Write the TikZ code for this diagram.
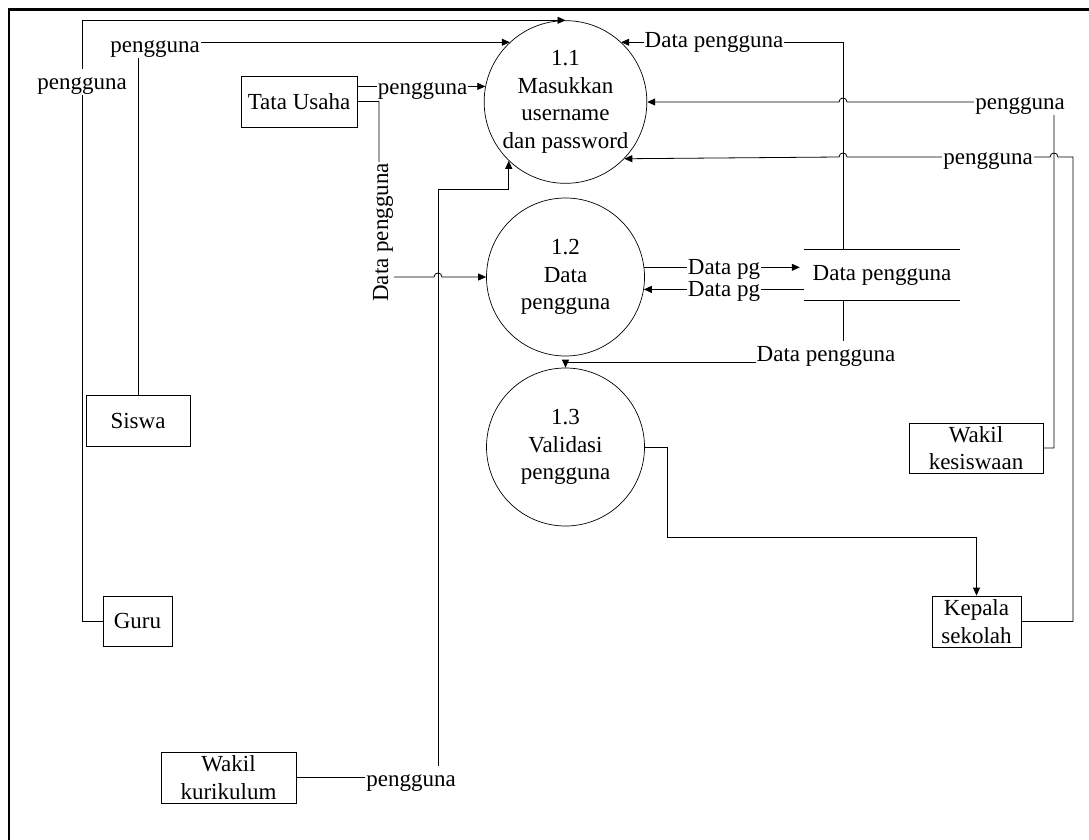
\documentclass[tikz,border=0pt]{standalone}
\usepackage{fontspec}
\setmainfont{Liberation Serif}
\usetikzlibrary{arrows.meta,calc}
\begin{document}
\begin{tikzpicture}[x=1pt,y=-1pt,font=\fontsize{23}{27.6}\selectfont]
\tikzset{
  ent/.style={draw, line width=0.8pt, inner sep=0pt, align=center},
  proc/.style={draw, circle, minimum size=158pt, inner sep=0pt, align=center, line width=0.7pt},
  lbl/.style={fill=white, inner xsep=1pt, inner ysep=0.5pt, text height=20.5pt, text depth=5pt},
  lbls/.style={fill=white, inner xsep=1pt, inner ysep=0.5pt, text height=15.2pt, text depth=5pt},
  link/.style={line width=0.8pt},
  flow/.style={link, -{Triangle[length=8pt,width=7pt]}},
}
\useasboundingbox (0,0) rectangle (1089,840);
\draw[line width=2.2pt] (9,840) -- (9,9.5) -- (1089,9.5);

% external entities
\node[ent, minimum width=116pt, minimum height=51pt] (tata) at (299,101.5) {Tata Usaha};
\node[ent, minimum width=104pt, minimum height=51pt] (siswa) at (138,420.5) {Siswa};
\node[ent, minimum width=69pt, minimum height=50pt] (guru) at (137.5,621) {Guru};
\node[ent, minimum width=135pt, minimum height=51pt] (wkur) at (228.5,777.5) {Wakil\\kurikulum};
\node[ent, minimum width=134pt, minimum height=50pt] (wkes) at (976,448) {Wakil\\kesiswaan};
\node[ent, minimum width=89pt, minimum height=51pt] (kep) at (976.5,621.5) {Kepala\\sekolah};

% processes
\node[proc] (c11) at (565.5,102) {1.1\\Masukkan\\username\\dan password};
\node[proc] (c12) at (565.5,277) {1.2\\Data\\pengguna};
\node[proc] (c13) at (565.5,447) {1.3\\Validasi\\pengguna};

% data store
\node[minimum width=156pt, minimum height=50pt, inner sep=0pt] (ds) at (882,275) {Data pengguna};
\draw[link] (ds.north west) -- (ds.north east) (ds.south west) -- (ds.south east);

% connectors
\draw[flow] (guru.west) -- (82,621) |- (c11.north);
\draw[flow] (siswa.north) |- (c11.133);
\draw[flow] (tata.east |- c11.169) -- (c11.169);
\draw[flow] (tata.east) -| (379,277) -- (434,277) .. controls (434,271.7) and (442,271.7) .. (442,277) -- (c12.west);
\draw[flow] (wkur.east) -| (438,189) -| (c11.226);
\draw[flow] (wkes.east) -| (1054,102) -- (847,102) .. controls (847,96.7) and (839,96.7) .. (839,102) -- (c11.east);
\draw[flow] (kep.east) -| (1073,157) -- (1058,157) .. controls (1058,151.7) and (1050,151.7) .. (1050,157)
  -- (847,157) .. controls (847,151.7) and (839,151.7) .. (839,157) -- (c11.-44);
\draw[flow] ([xshift=-39pt]ds.north) |- (c11.47);
\draw[flow, shorten >=4pt] (c12.7) -- (ds.west |- c12.7);
\draw[flow] (ds.west |- c12.-9) -- (c12.-9);
\draw[flow] ([xshift=-39pt]ds.south) |- (565.5,362) -- (c13.north);
\draw[flow] (c13.east) -- (667,447) -- (667,537) -| (kep.north);

% labels
\node[lbl] (l1) at (82,82) {pengguna};
\node[lbl] (l2) at (155,44.5) {pengguna};
\node[lbl] (l3) at (422.5,87) {pengguna};
\node[lbl] (l4) at (411,779) {pengguna};
\node[lbl] (l5) at (1020,101.5) {pengguna};
\node[lbl] (l6) at (988,156.5) {pengguna};
\node[lbl] (l7) at (714,40) {Data pengguna};
\node[lbl, rotate=90] (l8) at (380.25,232.5) {Data pengguna};
\node[lbl] (l9) at (826,354) {Data pengguna};
\node[lbls] (l10) at (724,269.4) {Data pg};
\node[lbls] (l11) at (724,291.8) {Data pg};
\end{tikzpicture}
\end{document}
